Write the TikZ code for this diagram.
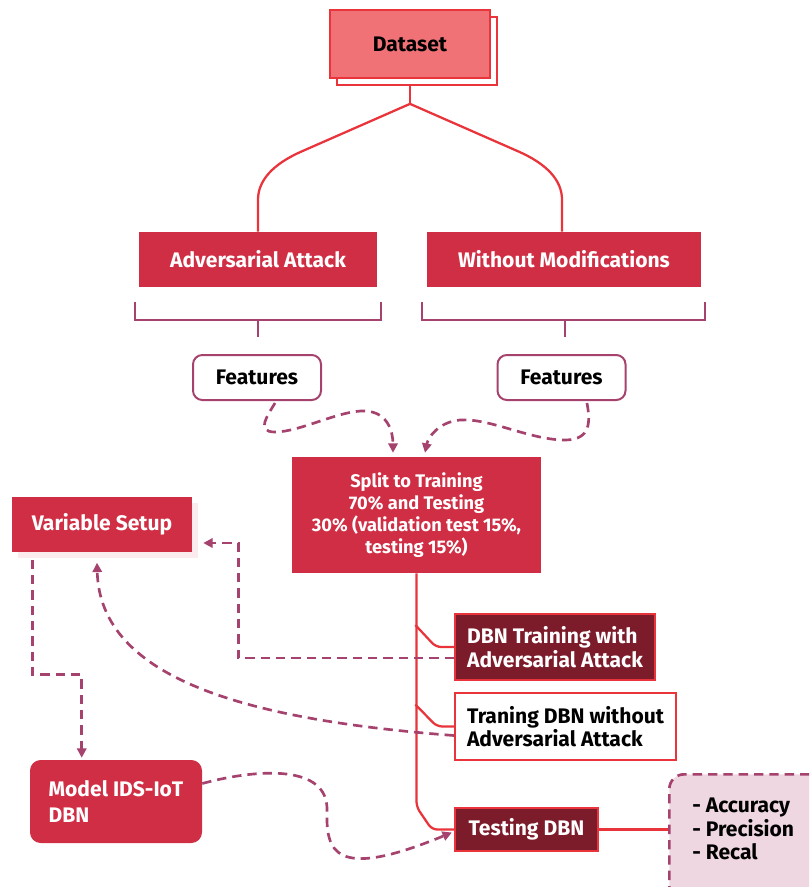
\documentclass[tikz,border=0pt]{standalone}
\usepackage{fontspec}
\setmainfont{Fira Sans}
\usetikzlibrary{arrows.meta,calc,positioning}
\definecolor{boxred}{HTML}{D02E44}
\definecolor{darkred}{HTML}{7C1B2A}
\definecolor{linered}{HTML}{E8343A}
\definecolor{mauve}{HTML}{A5426E}
\definecolor{salmon}{HTML}{F07176}
\definecolor{palepink}{HTML}{EED7E1}
\definecolor{shadowpink}{HTML}{FCEBEE}
\newcommand{\boxfont}{\bfseries\fontsize{15.8}{17.5}\selectfont}
\tikzset{plainbox/.style={fill=boxred,text=white,font=\boxfont,inner sep=0pt,align=center},
         darkbox/.style={fill=darkred,draw=linered,line width=1.7pt,text=white,font=\boxfont,inner sep=0pt,align=left},
         whitebox/.style={fill=white,draw=linered,line width=1.7pt,text=black,font=\boxfont,inner sep=0pt,align=left},
         featbox/.style={fill=white,draw=mauve,line width=1.5pt,rounded corners=7pt,font=\boxfont,inner sep=0pt},
         redline/.style={draw=linered,line width=1.7pt},
         bracket/.style={draw=mauve,line width=1.7pt},
         flow/.style={draw=mauve,line width=2pt,dash pattern=on 7pt off 4.5pt,-{Triangle[length=7pt,width=7pt]}}}

\begin{document}
\begin{tikzpicture}[x=0.75pt,y=-0.75pt]
                  \useasboundingbox (0,0) rectangle (809,887);
                  \node[fill=white,draw=linered,line width=1.3pt,minimum width=120pt,minimum height=51pt] (datashadow) at (417,51) {};
                  \node[fill=salmon,draw=linered,line width=1.7pt,minimum width=120pt,minimum height=51pt,font=\boxfont] (dataset) at (410,44) {Dataset};
                  \node[plainbox,minimum width=178.5pt,minimum height=41.25pt] (adv) at (258,259.5) {Adversarial Attack};
                  \node[plainbox,minimum width=205.5pt,minimum height=41.25pt] (wom) at (564,259.5) {Without Modifications};
                  \node[featbox,minimum width=96pt,minimum height=33.75pt] (feat1) at (257,377.5) {Features};
                  \node[featbox,minimum width=96pt,minimum height=33.75pt] (feat2) at (561.5,377.5) {Features};
                  \node[plainbox,minimum width=186.75pt,minimum height=87pt,font=\bfseries\fontsize{13.7}{16.5}\selectfont] (split) at (416.5,515)
                       {Split to Training\\70\% and Testing\\30\% (validation test 15\%,\\testing 15\%)};
                  \node[fill=shadowpink,minimum width=135pt,minimum height=41.25pt] (varshadow) at (108,530) {};
                  \node[plainbox,minimum width=135pt,minimum height=41.25pt] (varsetup) at (102,524.5) {Variable Setup};
                  \node[darkbox,minimum width=150pt,minimum height=49.5pt] (dbnadv) at (555,647) {DBN Training with\\Adversarial Attack};
                  \node[whitebox,minimum width=165.75pt,minimum height=50.25pt] (dbnno) at (565.5,726.5) {Traning DBN without\\Adversarial Attack};
                  \node[darkbox,minimum width=107.25pt,minimum height=32.25pt,align=center] (testing) at (526.5,829.5) {Testing DBN};
                  \node[plainbox,rounded corners=8pt,minimum width=129pt,minimum height=62.25pt,align=left,font=\bfseries\fontsize{15.8}{20}\selectfont] (model) at (116,801.5) {Model IDS-IoT\\DBN};
                  \begin{scope}
                    \clip (0,0) rectangle (809,887);
                    \node[fill=palepink,draw=mauve,line width=2pt,dash pattern=on 7pt off 4.5pt,rounded corners=11pt,
                          minimum width=127.5pt,minimum height=105pt,anchor=north west] (metricsbox) at (668,773) {};
                  \end{scope}
                  \node[anchor=west,align=left,font=\boxfont,inner sep=0pt] (metrics) at (692,829) {- Accuracy\\- Precision\\- Recal};
                  \coordinate (fork) at ($(datashadow.south -| dataset.south)+(0,18)$);
                  \draw[redline] (datashadow.south -| dataset.south) -- (fork);
                  \draw[redline] (fork) -- ($(adv.north)+(43,-80)$) .. controls ($(adv.north)+(16,-68)$) and ($(adv.north)+(0,-52)$) .. ($(adv.north)+(0,-32)$) -- (adv.north);
                  \draw[redline] (fork) -- ($(wom.north)+(-45,-80)$) .. controls ($(wom.north)+(-18,-68)$) and ($(wom.north)+(-2,-52)$) .. ($(wom.north)+(-2,-32)$) -- ($(wom.north)+(-2,0)$);
                  \draw[bracket] ($(adv.south west)+(-4,15)$) -- ($(adv.south west)+(-4,33)$) -- ($(adv.south east)+(4,33)$) -- ($(adv.south east)+(4,15)$);
                  \draw[bracket] ($(adv.south)+(0,33)$) -- ($(adv.south)+(0,50)$);
                  \draw[bracket] ($(wom.south west)+(-5,15)$) -- ($(wom.south west)+(-5,33)$) -- ($(wom.south east)+(4,33)$) -- ($(wom.south east)+(4,15)$);
                  \draw[bracket] ($(wom.south)+(1,33)$) -- ($(wom.south)+(1,50)$);
                  \draw[flow] ($(feat1.south)+(18,2)$) .. controls (268,415) and (255,432) .. (275,432) .. controls (300,432) and (340,410) .. (365,411)
                       .. controls (388,412) and (393,432) .. ($(split.north)+(-23.5,-4)$);
                  \draw[flow] ($(feat2.south)+(25.5,2)$) .. controls (590,420) and (592,440) .. (565,440) .. controls (530,440) and (490,418) .. (460,420)
                       .. controls (438,422) and (428,438) .. ($(split.north)+(8.5,-4)$);
                  \draw[redline,rounded corners=4pt] (split.south) -- (split.south |- testing.north) -- ($(testing.west)+(-22,0)$) -- (testing.west);
                  \draw[redline,rounded corners=4pt] ($(dbnadv.west)+(-38.5,-22)$) -- ($(dbnadv.west)+(-18,0)$) -- (dbnadv.west);
                  \draw[redline,rounded corners=4pt] ($(dbnno.west)+(-38.5,-22)$) -- ($(dbnno.west)+(-17,0)$) -- (dbnno.west);
                  \draw[redline] (testing.east) -- (testing.east -| metricsbox.west);
                  \draw[flow] ($(dbnadv.west)+(0,11)$) -| ($(varshadow.east)+(40,13)$) -- ($(varshadow.east)+(5,13)$);
                  \draw[flow] ($(dbnno.west)+(0,9)$) .. controls (250,720) and (100,680) .. ($(varshadow.south)+(-11,5)$);
                  \draw[flow] ($(varshadow.south west)+(15,2)$) |- ($(model.north west)+(52,-85)$) -- ($(model.north west)+(52,-2)$);
                  \draw[flow] ($(model.east)+(0,-18)$) .. controls (260,768) and (328,765) .. (327,810) .. controls (326,850) and (332,882) .. ($(testing.west)+(-2,3)$);
              \end{tikzpicture}
\end{document}
